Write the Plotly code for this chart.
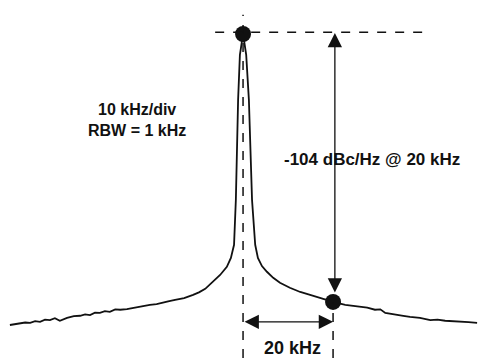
import numpy as np
import plotly.graph_objects as go

# carrier spectrum: offset from carrier (kHz) and level (dB rel. carrier peak)
offset_khz = [-51.8, -50.7, -49.6, -48.4, -47.3, -46.2, -45.1, -44.0, -42.9, -41.8, -40.7, -39.1,
              -37.6, -36.2, -35.1, -34.0, -32.9, -31.8, -30.7, -29.6, -28.4, -27.3, -25.8, -24.4,
              -22.6, -20.7, -19.2, -17.8, -16.4, -15.1, -13.1, -11.1, -9.8, -8.4, -6.7, -5.1,
              -3.6, -2.7, -2.0, -1.6, -1.1, -0.7, 0.0,
              0.7, 1.3, 2.0, 2.7, 3.3, 4.2, 5.3, 6.7, 8.2, 10.4, 12.7, 14.9, 17.1, 20.0,
              22.7, 24.3, 26.0, 27.6, 29.3, 30.5, 31.6, 32.9, 34.2, 35.6, 37.1, 39.3, 41.6,
              43.2, 44.9, 46.6, 48.2, 50.1, 52.0]
level_db = [-82.0, -81.8, -81.7, -81.3, -81.4, -80.9, -81.1, -80.5, -80.6, -80.1, -80.8, -80.0,
            -79.5, -79.4, -79.0, -79.2, -78.5, -78.6, -78.1, -78.3, -77.6, -77.7, -77.5, -77.2,
            -76.6, -76.3, -76.1, -75.8, -75.3, -74.9, -74.4, -73.5, -72.8, -71.8, -69.9, -67.9,
            -65.6, -63.1, -59.4, -46.8, -18.6, -5.9, 0.0,
            -5.9, -18.6, -46.8, -59.4, -63.1, -65.4, -67.0, -68.7, -70.1, -71.5, -72.7, -73.5, -74.4, -75.5,
            -76.3, -76.5, -76.9, -77.1, -77.7, -77.6, -78.6, -78.8, -79.2, -79.4, -79.7, -80.0, -80.6,
            -80.5, -80.8, -81.0, -81.1, -81.2, -81.4]

marker_offsets = [0.0, 20.0]          # carrier peak and the 20 kHz measurement point
ref_line_khz = [-6.2, 41.6]           # extent of the carrier reference (0 dB) line
arrow_x_khz = 20.4                    # vertical dBc arrow
span_arrow_db = -81.1                 # level of the 20 kHz span arrow
top_db, bottom_db = 9.58, -91.3
left_khz, right_khz = -54.0, 52.2

marker_levels = np.interp(marker_offsets, offset_khz, level_db)

ink = "#111111"
family = "Liberation Sans, Arial, sans-serif"

fig = go.Figure()

fig.add_trace(go.Scatter(
    x=offset_khz, y=level_db, mode="lines",
    line=dict(color=ink, width=1.8), hoverinfo="skip"
))

fig.add_trace(go.Scatter(
    x=marker_offsets, y=marker_levels, mode="markers",
    marker=dict(color=ink, size=16), hoverinfo="skip"
))

# dashed guides
fig.add_shape(type="line", x0=0, x1=0, y0=bottom_db, y1=5.4,
              line=dict(color=ink, width=1.5, dash="dash"))
fig.add_shape(type="line", x0=marker_offsets[1], x1=marker_offsets[1], y0=bottom_db, y1=marker_levels[1],
              line=dict(color=ink, width=1.5, dash="dash"))
fig.add_shape(type="line", x0=ref_line_khz[0], x1=ref_line_khz[1], y0=0.5, y1=0.5,
              line=dict(color=ink, width=1.5, dash="dash"))

# double-headed arrows
fig.add_annotation(x=arrow_x_khz, y=0.3, ax=arrow_x_khz, ay=marker_levels[1] + 2.2,
                   xref="x", yref="y", axref="x", ayref="y", text="",
                   showarrow=True, arrowhead=2, arrowside="end+start",
                   arrowsize=2.2, arrowwidth=1.3, arrowcolor=ink)
fig.add_annotation(x=marker_offsets[1], y=span_arrow_db, ax=marker_offsets[0], ay=span_arrow_db,
                   xref="x", yref="y", axref="x", ayref="y", text="",
                   showarrow=True, arrowhead=2, arrowside="end+start",
                   arrowsize=2.2, arrowwidth=1.3, arrowcolor=ink)

# labels
fig.add_annotation(x=-23.6, y=-24.2, text="<b>10 kHz/div<br>RBW = 1 kHz</b>",
                   showarrow=False, font=dict(family=family, size=16, color=ink), align="center")
fig.add_annotation(x=28.7, y=-35.5, text="<b>-104 dBc/Hz @ 20 kHz</b>",
                   showarrow=False, font=dict(family=family, size=17, color=ink))
fig.add_annotation(x=10.9, y=-88.5, text="<b>20 kHz</b>",
                   showarrow=False, font=dict(family=family, size=18, color=ink))

fig.update_layout(
    width=478, height=358,
    margin=dict(l=0, r=0, t=0, b=0),
    paper_bgcolor="white", plot_bgcolor="white",
    showlegend=False,
    xaxis=dict(range=[left_khz, right_khz], visible=False),
    yaxis=dict(range=[bottom_db, top_db], visible=False),
)

fig.write_html("out.html", config={"displayModeBar": False},
               post_script="document.body.style.margin='0';")
